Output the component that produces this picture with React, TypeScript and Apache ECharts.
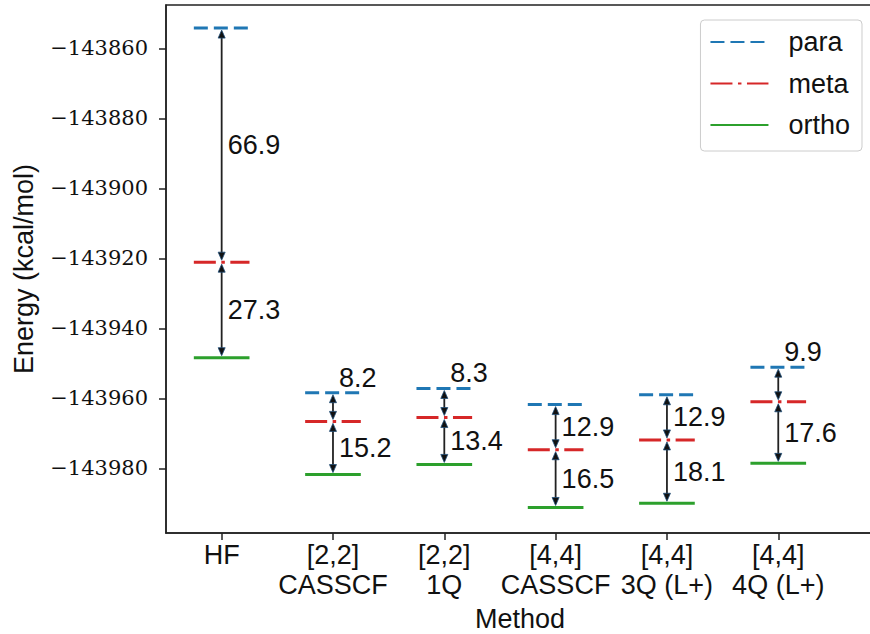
import React, { useEffect, useRef } from "react";
import * as echarts from "echarts";

const methods = ["HF", "[2,2]\nCASSCF", "[2,2]\n1Q", "[4,4]\nCASSCF", "[4,4]\n3Q (L+)", "[4,4]\n4Q (L+)"];
const para = [-143854.2, -143958.4, -143957.2, -143961.8, -143959.0, -143951.1];
const meta = [-143921.1, -143966.6, -143965.5, -143974.7, -143971.9, -143961.0];
const ortho = [-143948.4, -143981.8, -143978.9, -143991.2, -143990.0, -143978.6];
const paraMetaGap = [66.9, 8.2, 8.3, 12.9, 12.9, 9.9];
const metaOrthoGap = [27.3, 15.2, 13.4, 16.5, 18.1, 17.6];
const yTicks = [-143980, -143960, -143940, -143920, -143900, -143880, -143860];
const xTicks = [0, 1, 2, 3, 4, 5];

const HALF_W = 0.25;
const SANS = "'Liberation Sans', Arial, sans-serif";
const SERIF = "'DejaVu Serif', serif";

function levelData(vals: number[]) {
  const out: any[] = [];
  vals.forEach((v, i) => {
    out.push([i - HALF_W, v], [i + HALF_W, v], ["-", "-"]);
  });
  return out;
}

const arrowData: any[] = [
  ...para.map((v, i) => [i, v, meta[i], paraMetaGap[i], 0]),
  ...meta.map((v, i) => [i, v, ortho[i], metaOrthoGap[i], 1]),
];

export default function App() {
  const ref = useRef<HTMLDivElement>(null);
  useEffect(() => {
    if (!ref.current) return;
    const chart = echarts.init(ref.current, undefined, { renderer: "svg" });
    const option: any = {
      animation: false,
      backgroundColor: "#fff",
      grid: {
        left: 166,
        right: -4,
        top: 5,
        bottom: 101,
        containLabel: false,
        outerBoundsMode: "none",
        show: true,
        borderColor: "#222",
        borderWidth: 1.5,
      },
      legend: {
        data: ["para", "meta", "ortho"],
        orient: "vertical",
        right: 8,
        top: 20,
        itemWidth: 58,
        itemHeight: 14,
        itemGap: 13.5,
        padding: [8, 12, 12, 9],
        borderColor: "#ccc",
        borderWidth: 1,
        borderRadius: 4,
        backgroundColor: "#fff",
        itemStyle: { opacity: 0 },
        textStyle: {
          fontSize: 27,
          fontFamily: SANS,
          color: "#111",
          lineHeight: 28,
          padding: [0, 0, 0, 15],
        },
      },
      xAxis: {
        type: "value",
        min: -0.5,
        max: 5.86,
        name: "Method",
        nameLocation: "middle",
        nameGap: 73,
        nameTextStyle: { fontSize: 27, lineHeight: 26, fontFamily: SANS, color: "#111" },
        splitLine: { show: false },
        axisLine: { show: true, onZero: false, lineStyle: { color: "#222", width: 1.5 } },
        axisTick: { show: true, length: 7, customValues: xTicks, lineStyle: { color: "#222", width: 1.5 } },
        axisLabel: {
          customValues: xTicks,
          margin: 7,
          fontSize: 27,
          lineHeight: 30,
          fontFamily: SANS,
          color: "#111",
          formatter: (v: number) => methods[Math.round(v)] ?? "",
        },
      },
      yAxis: {
        type: "value",
        min: -143998.5,
        max: -143847.6,
        name: "Energy (kcal/mol)",
        nameLocation: "middle",
        nameGap: 129,
        nameTextStyle: { fontSize: 27, fontFamily: SANS, color: "#111" },
        splitLine: { show: false },
        axisLine: { show: true, onZero: false, lineStyle: { color: "#222", width: 1.5 } },
        axisTick: { show: true, length: 7, customValues: yTicks, lineStyle: { color: "#222", width: 1.5 } },
        axisLabel: {
          customValues: yTicks,
          margin: 18,
          fontSize: 21,
          fontFamily: SERIF,
          color: "#111",
          formatter: (v: number) => "\u2212" + Math.abs(v).toString(),
        },
      },
      series: [
        {
          name: "para",
          type: "line",
          data: levelData(para),
          symbol: "none",
          connectNulls: false,
          color: "#1f77b4",
          lineStyle: { color: "#1f77b4", width: 3, type: [14, 6] },
          z: 2,
        },
        {
          name: "meta",
          type: "line",
          data: levelData(meta),
          symbol: "none",
          connectNulls: false,
          color: "#d62728",
          lineStyle: { color: "#d62728", width: 3, type: [22, 5.5, 3.5, 5.5] },
          z: 2,
        },
        {
          name: "ortho",
          type: "line",
          data: levelData(ortho),
          symbol: "none",
          connectNulls: false,
          color: "#2ca02c",
          lineStyle: { color: "#2ca02c", width: 3 },
          z: 2,
        },
        {
          name: "arrows",
          type: "custom",
          silent: true,
          z: 3,
          clip: false,
          data: arrowData,
          encode: { x: 0, y: [1, 2] },
          renderItem: (params: any, api: any) => {
            const x = api.value(0);
            const y1 = api.value(1);
            const y2 = api.value(2);
            const gap = api.value(3);
            const kind = api.value(4);
            const p1 = api.coord([x, y1]);
            const p2 = api.coord([x, y2]);
            const px = p1[0];
            const shrink = 2;
            const top = p1[1] + shrink;
            const bot = p2[1] - shrink;
            const head = 8;
            const hw = 3.5;
            const labelY = kind === 0 && gap < 10 ? p1[1] - 15 : (p1[1] + p2[1]) / 2;
            const headStyle = { fill: "#111", stroke: "#1f4e79", lineWidth: 0.8 };
            return {
              type: "group",
              children: [
                {
                  type: "line",
                  shape: { x1: px, y1: top + 2, x2: px, y2: bot - 2 },
                  style: { stroke: "#222", lineWidth: 1.8 },
                },
                {
                  type: "polygon",
                  shape: { points: [[px, top], [px - hw, top + head], [px + hw, top + head]] },
                  style: headStyle,
                },
                {
                  type: "polygon",
                  shape: { points: [[px, bot], [px - hw, bot - head], [px + hw, bot - head]] },
                  style: headStyle,
                },
                {
                  type: "text",
                  style: {
                    text: gap.toFixed(1),
                    x: px + 6,
                    y: labelY,
                    fontSize: 27,
                    fontFamily: SANS,
                    fill: "#111",
                    align: "left",
                    verticalAlign: "middle",
                  },
                },
              ],
            };
          },
        },
      ],
    };
    chart.setOption(option);
    return () => chart.dispose();
  }, []);
  return <div ref={ref} style={{ width: 870, height: 634, position: "absolute", left: 0, top: 0 }} />;
}
